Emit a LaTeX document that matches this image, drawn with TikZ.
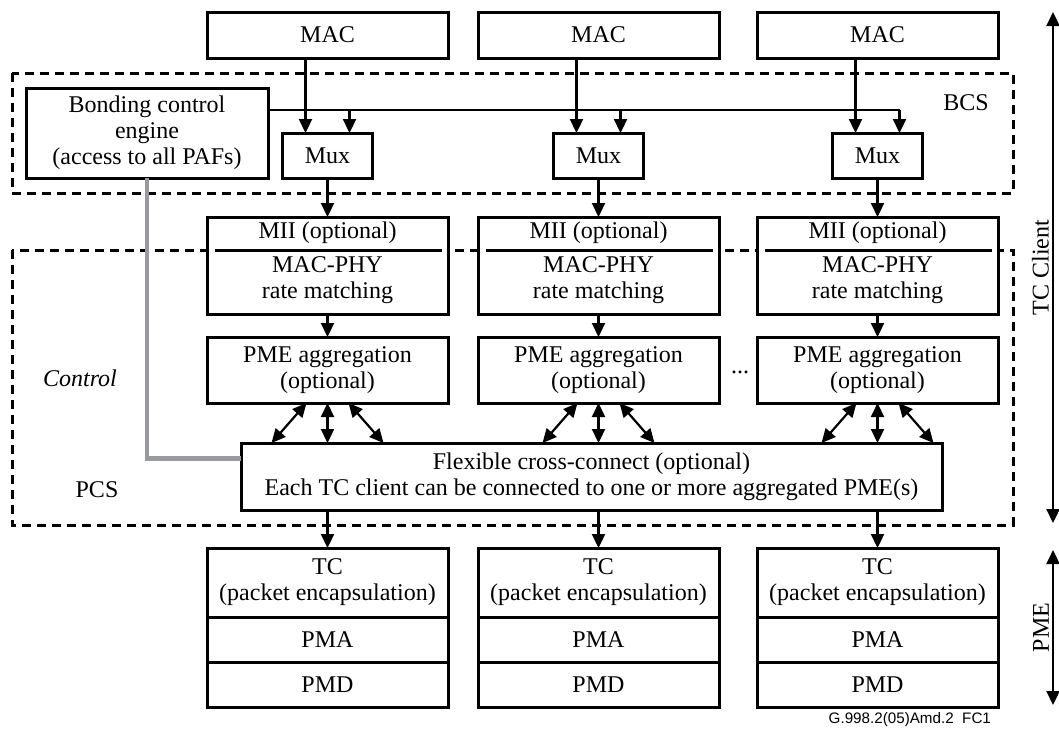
\documentclass[tikz,border=0pt]{standalone}
\usepackage{fontspec}
\setmainfont{Liberation Serif}
\newfontfamily\refsans{Liberation Sans}
\usetikzlibrary{arrows.meta,positioning}

\definecolor{ctlgray}{RGB}{152,154,157}

\tikzset{
  blk/.style={draw, line width=1.5pt, fill=white, minimum width=120.5pt,
    inner sep=0pt, outer sep=0pt, align=center},
  lnk/.style={line width=1.1pt, -{Triangle[length=7pt,width=6.5pt]}},
  bilnk/.style={line width=1.1pt, {Triangle[length=7pt,width=6.5pt]}-{Triangle[length=7pt,width=6.5pt]}},
  area/.style={line width=1.5pt, dash pattern=on 4.5pt off 3pt},
}

\begin{document}
\begin{tikzpicture}[x=0.5pt,y=-0.5pt,font=\fontsize{12}{13}\selectfont]
\useasboundingbox (0,0) rectangle (1059,736);

% sublayer areas
\draw[area] (12,73) rectangle (1013,193);
\draw[area] (12,250) rectangle (1013,525);
\node (bcs) at (966,103) {BCS};
\node[font=\fontsize{12}{13}\selectfont\itshape] (ctl) at (80,378) {Control};
\node (pcs) at (97,490) {PCS};

\node[blk, minimum width=121pt, minimum height=45pt] (bce) at (147,133)
  {Bonding control\\engine\\(access to all PAFs)};
\node[blk, minimum width=350.5pt, minimum height=33.5pt] (flex) at (591.5,476.5)
  {Flexible cross-connect (optional)\\Each TC client can be connected to one or more aggregated PME(s)};
\node (dots) at (740,372) {...};

\coordinate (bus) at ([yshift=-11pt]bce.north east);
\coordinate (ctlin) at ([yshift=9pt]flex.west);

% one column per TC client
\foreach \c/\x in {1/327.5,2/598.5,3/877.5}{
  \node[blk, minimum height=23pt] (mac\c) at (\x,35) {MAC};
  \node[blk, minimum width=45pt, minimum height=22.5pt] (mux\c) at (\x,155.5) {Mux};
  \node[blk, minimum height=48.5pt] (mii\c) at (\x,265.5) {};
  \draw[line width=1.5pt] ([xshift=4pt,yshift=-16.5pt]mii\c.north west)
    -- ([xshift=-3pt,yshift=-16.5pt]mii\c.north east);
  \node (miit\c) at (\x,233) {MII (optional)};
  \node[align=center] (rate\c) at (\x,280) {MAC-PHY\\rate matching};
  \node[blk, minimum height=33pt] (agg\c) at (\x,370) {PME aggregation\\(optional)};
  \node[blk, minimum height=34.5pt] (tc\c) at (\x,582.5) {TC\\(packet encapsulation)};
  \node[blk, minimum height=22.5pt, below=0pt of tc\c] (pma\c) {PMA};
  \node[blk, minimum height=22.5pt, below=0pt of pma\c] (pmd\c) {PMD};

  \draw[lnk] ([xshift=-11pt]mac\c.south) -- ([xshift=-11pt]mux\c.north);
  \draw[lnk] ([xshift=11pt]mux\c.north |- bus) -- ([xshift=11pt]mux\c.north);
  \draw[lnk] (mux\c.south) -- (mii\c.north);
  \draw[lnk] (mii\c.south) -- (agg\c.north);
  \draw[bilnk] (agg\c.south) -- (agg\c.south |- flex.north);
  \draw[bilnk] ([xshift=-10.5pt]agg\c.south) -- ([xshift=-28pt]agg\c.south |- flex.north);
  \draw[bilnk] ([xshift=10.5pt]agg\c.south) -- ([xshift=28pt]agg\c.south |- flex.north);
  \draw[lnk] (flex.south -| tc\c.north) -- (tc\c.north);
}

\draw[line width=1.1pt] (bus) -- ([xshift=11pt]mux3.north |- bus);
\draw[line width=2.2pt, ctlgray] (bce.south) |- (ctlin);

% layer extents
\coordinate (tctop) at (1053,12);
\coordinate (tcbot) at (1053,523);
\coordinate (pmetop) at (1053,550);
\coordinate (pmebot) at (1053,705);
\draw[bilnk] (tctop) -- (tcbot) node[midway, above, rotate=90, inner sep=1.5pt] (tclab) {TC Client};
\draw[bilnk] (pmetop) -- (pmebot) node[midway, above, rotate=90, inner sep=1.5pt] (pmelab) {PME};

\node[font=\fontsize{7.6}{9}\refsans, anchor=east] (ref) at (998,720) {G.998.2(05)Amd.2\ \ FC1};
\end{tikzpicture}
\end{document}
